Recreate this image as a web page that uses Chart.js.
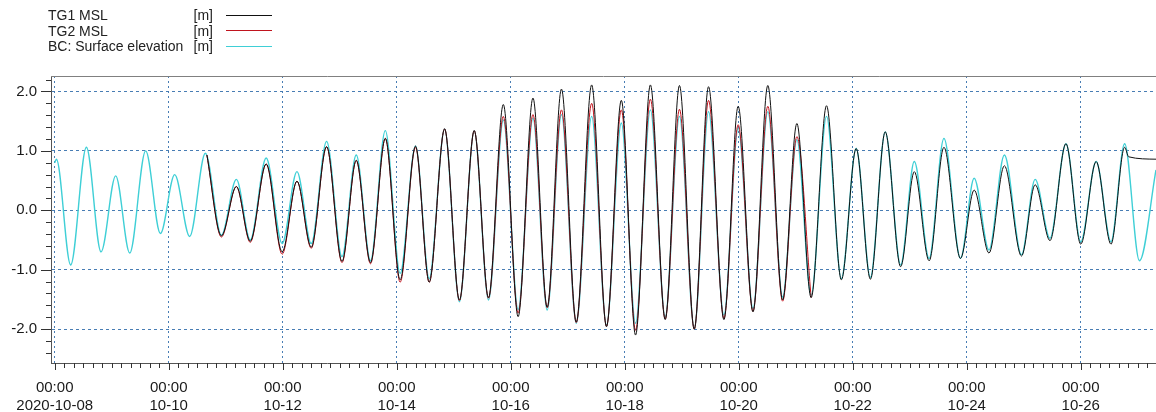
<!DOCTYPE html>
<html>
<head>
<meta charset="utf-8">
<script src="https://cdn.jsdelivr.net/npm/chart.js@4.4.1/dist/chart.umd.min.js"></script>
<style>
  html, body { margin: 0; padding: 0; background: #ffffff; }
  #wrap { position: relative; width: 1156px; height: 412px; overflow: hidden; }
  canvas { position: absolute; left: 0; top: 0; }
  .lg { position: absolute; font-family: "Liberation Sans", Arial, sans-serif; font-size: 14px; line-height: 16px; color: #222; white-space: nowrap; }
  .lgu { position: absolute; font-family: "Liberation Sans", Arial, sans-serif; font-size: 14px; line-height: 16px; color: #222; text-align: right; width: 40px; }
  .lgl { position: absolute; height: 0; width: 46px; border-top: 1px solid; }
</style>
</head>
<body>
<div id="wrap">
  <canvas id="c" width="1156" height="412"></canvas>
  <div id="legend"></div>
</div>
<script>
// ---- data (time in days after 2020-10-08 00:00, value in m) ----
const seriesNames = ['TG1 MSL', 'TG2 MSL', 'BC: Surface elevation'];
const seriesUnits = ['[m]', '[m]', '[m]'];
const seriesColors = ['#111111', '#c0141e', '#3fcfd6'];

const tg1Days = [2.67, 2.924, 3.187, 3.43, 3.71, 3.99, 4.25, 4.50, 4.77, 5.04, 5.29, 5.54, 5.80, 6.06, 6.33, 6.57, 6.84, 7.10, 7.36, 7.61, 7.87, 8.13, 8.39, 8.64, 8.89, 9.15, 9.42, 9.68, 9.94, 10.19, 10.45, 10.71, 10.96, 11.22, 11.47, 11.74, 11.99, 12.25, 12.51, 12.77, 13.02, 13.27, 13.54, 13.80, 14.06, 14.31, 14.57, 14.84, 15.08, 15.34, 15.60, 15.89, 16.13, 16.39, 16.66, 16.96, 17.20, 17.46, 17.74, 18.00, 18.27, 18.53, 18.77, 18.84, 19.32];
const tg1Values = [0.93, -0.43, 0.40, -0.52, 0.78, -0.70, 0.49, -0.62, 1.07, -0.86, 0.84, -0.88, 1.21, -1.17, 1.08, -1.21, 1.37, -1.51, 1.34, -1.47, 1.78, -1.79, 1.89, -1.63, 2.04, -1.88, 2.11, -1.96, 1.85, -2.10, 2.11, -1.84, 2.10, -2.00, 2.08, -1.84, 1.75, -1.71, 2.10, -1.51, 1.46, -1.47, 1.76, -1.17, 1.04, -1.16, 1.32, -0.95, 0.65, -0.85, 1.06, -0.81, 0.34, -0.72, 0.75, -0.77, 0.43, -0.51, 1.12, -0.57, 0.82, -0.57, 1.06, 0.90, 0.86];

const tg2Days = [2.67, 2.924, 3.187, 3.43, 3.71, 3.99, 4.25, 4.50, 4.77, 5.04, 5.29, 5.54, 5.80, 6.06, 6.33, 6.57, 6.84, 7.10, 7.36, 7.61, 7.87, 8.13, 8.39, 8.64, 8.89, 9.15, 9.42, 9.68, 9.94, 10.19, 10.45, 10.71, 10.96, 11.22, 11.47, 11.74, 11.99, 12.25, 12.51, 12.77, 13.02, 13.27];
const tg2Values = [0.93, -0.45, 0.40, -0.54, 0.78, -0.74, 0.49, -0.64, 1.07, -0.88, 0.84, -0.90, 1.21, -1.21, 1.06, -1.21, 1.37, -1.52, 1.34, -1.48, 1.58, -1.73, 1.61, -1.64, 1.69, -1.89, 1.80, -1.95, 1.69, -2.02, 1.87, -1.83, 1.70, -2.00, 1.85, -1.82, 1.44, -1.70, 1.75, -1.53, 1.24, -1.47];

const bcDays = [0.00, 0.03, 0.28, 0.556, 0.813, 1.07, 1.316, 1.596, 1.854, 2.105, 2.368, 2.643, 2.924, 3.187, 3.43, 3.71, 3.99, 4.25, 4.50, 4.77, 5.04, 5.29, 5.54, 5.80, 6.06, 6.33, 6.57, 6.84, 7.10, 7.36, 7.61, 7.87, 8.13, 8.39, 8.64, 8.89, 9.15, 9.42, 9.68, 9.94, 10.19, 10.45, 10.71, 10.96, 11.22, 11.47, 11.74, 11.99, 12.25, 12.51, 12.77, 13.02, 13.27, 13.54, 13.80, 14.06, 14.31, 14.57, 14.84, 15.08, 15.34, 15.60, 15.89, 16.13, 16.39, 16.66, 16.96, 17.20, 17.46, 17.74, 18.00, 18.27, 18.53, 18.77, 19.03, 19.32];
const bcValues = [0.80, 0.86, -0.92, 1.06, -0.70, 0.58, -0.72, 1.00, -0.39, 0.60, -0.44, 0.96, -0.42, 0.52, -0.50, 0.88, -0.56, 0.65, -0.56, 1.16, -0.78, 0.93, -0.85, 1.34, -1.06, 1.08, -1.15, 1.37, -1.54, 1.34, -1.51, 1.52, -1.67, 1.55, -1.68, 1.61, -1.90, 1.58, -1.93, 1.47, -1.90, 1.69, -1.79, 1.58, -1.99, 1.66, -1.76, 1.38, -1.65, 1.66, -1.46, 1.19, -1.43, 1.58, -1.15, 1.04, -1.13, 1.32, -0.92, 0.82, -0.81, 1.21, -0.81, 0.54, -0.67, 0.93, -0.75, 0.52, -0.47, 1.12, -0.53, 0.82, -0.53, 1.12, -0.85, 0.68];

// ---- axes ----
const xTickDays = [0, 2, 4, 6, 8, 10, 12, 14, 16, 18];
const xTickTimes = ['00:00', '00:00', '00:00', '00:00', '00:00', '00:00', '00:00', '00:00', '00:00', '00:00'];
const xTickDates = ['2020-10-08', '10-10', '10-12', '10-14', '10-16', '10-18', '10-20', '10-22', '10-24', '10-26'];
const yTickValues = [-2, -1, 0, 1, 2];
const yTickLabels = ['-2.0', '-1.0', '0.0', '1.0', '2.0'];

const FONT = '"Liberation Sans", Arial, sans-serif';
const GRID = 'rgba(62,118,176,0.95)';

function pts(d, v) { return d.map((t, i) => ({ x: t, y: v[i] })); }

// legend (HTML text)
(function () {
  const lg = document.getElementById('legend');
  const rowTop = [7, 22.5, 38];
  seriesNames.forEach((n, i) => {
    const a = document.createElement('div'); a.className = 'lg';
    a.style.left = '48px'; a.style.top = rowTop[i] + 'px'; a.textContent = n; lg.appendChild(a);
    const u = document.createElement('div'); u.className = 'lgu';
    u.style.left = '173px'; u.style.top = rowTop[i] + 'px'; u.textContent = seriesUnits[i]; lg.appendChild(u);
    const l = document.createElement('div'); l.className = 'lgl';
    l.style.left = '226px'; l.style.top = (rowTop[i] + 7.5) + 'px'; l.style.borderTopColor = seriesColors[i];
    if (i === 2) l.style.borderTopWidth = '1.5px';
    lg.appendChild(l);
  });
})();

const axisDecor = {
  id: 'axisDecor',
  afterDraw(chart) {
    const { ctx, chartArea: a, scales: { x, y } } = chart;
    ctx.save();
    ctx.strokeStyle = '#333'; ctx.lineWidth = 1;
    for (let k = Math.ceil(x.min * 6); k <= Math.floor(x.max * 6); k++) {
      const px = Math.round(x.getPixelForValue(k / 6)) + 0.5;
      const len = (k % 12 === 0) ? 7 : 5;
      ctx.beginPath(); ctx.moveTo(px, a.bottom); ctx.lineTo(px, a.bottom + len); ctx.stroke();
    }
    for (let k = Math.ceil(y.min * 5); k <= Math.floor(y.max * 5); k++) {
      const py = Math.round(y.getPixelForValue(k / 5)) + 0.5;
      const len = (k % 5 === 0) ? 10 : 5;
      ctx.beginPath(); ctx.moveTo(a.left - len, py); ctx.lineTo(a.left, py); ctx.stroke();
    }
    ctx.strokeStyle = '#808080';
    ctx.beginPath(); ctx.moveTo(a.left, a.top + 0.5); ctx.lineTo(a.right, a.top + 0.5); ctx.stroke();
    ctx.restore();
  }
};

new Chart(document.getElementById('c'), {
  type: 'line',
  data: {
    datasets: [
      { label: seriesNames[0], data: pts(tg1Days, tg1Values), borderColor: seriesColors[0], borderWidth: 1 },
      { label: seriesNames[1], data: pts(tg2Days, tg2Values), borderColor: seriesColors[1], borderWidth: 1 },
      { label: seriesNames[2], data: pts(bcDays, bcValues), borderColor: seriesColors[2], borderWidth: 1.4 }
    ]
  },
  options: {
    responsive: false,
    animation: false,
    devicePixelRatio: 1,
    layout: { padding: { top: 76, left: 0, right: 0, bottom: 0 } },
    elements: {
      point: { radius: 0 },
      line: { cubicInterpolationMode: 'monotone', fill: false }
    },
    plugins: { legend: { display: false }, tooltip: { enabled: false } },
    scales: {
      x: {
        type: 'linear', min: -0.065, max: 19.32,
        afterBuildTicks(s) { s.ticks = xTickDays.map(v => ({ value: v })); },
        afterFit(s) { s.height = 49; },
        grid: { color: GRID, lineWidth: 1, drawTicks: false },
        border: { display: true, color: '#555', width: 1, dash: [2, 3] },
        ticks: {
          autoSkip: false, maxRotation: 0, minRotation: 0, padding: 15,
          color: '#1a1a1a', font: { family: FONT, size: 15, lineHeight: 1.25 },
          callback(v) { const i = xTickDays.indexOf(v); return i < 0 ? '' : [xTickTimes[i], xTickDates[i]]; }
        }
      },
      y: {
        type: 'linear', min: -2.57, max: 2.26,
        afterBuildTicks(s) { s.ticks = yTickValues.map(v => ({ value: v })); },
        afterFit(s) { s.width = 51; },
        grid: { color: GRID, lineWidth: 1, drawTicks: false },
        border: { display: true, color: '#555', width: 1, dash: [3, 3] },
        ticks: {
          padding: 14, color: '#1a1a1a', font: { family: FONT, size: 15 },
          callback(v) { const i = yTickValues.indexOf(v); return i < 0 ? '' : yTickLabels[i]; }
        }
      }
    }
  },
  plugins: [axisDecor]
});
</script>
</body>
</html>
